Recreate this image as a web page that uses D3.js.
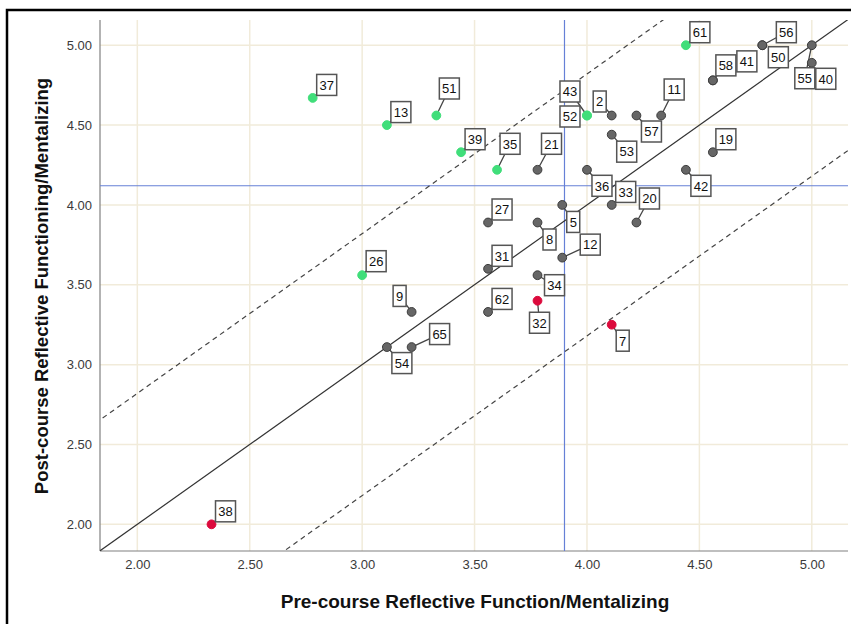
<!DOCTYPE html>
<html>
<head>
<meta charset="utf-8">
<script src="https://cdn.jsdelivr.net/npm/d3@7"></script>
<style>
  body { margin: 0; background: #fff; }
  svg text { font-family: "Liberation Sans", Arial, sans-serif; }
</style>
</head>
<body>
<div id="chart"></div>
<script>
//----------------- data -----------------//
// case ids, pre-course score, post-course score, group (colour)
var caseIds   = ["37","13","51","39","35","21","43","52","2","57","11","53","61","56","50","55","40","58","41","19","42","36","33","20","5","12","8","27","31","34","26","32","9","62","54","65","7","38"];
var preScores = [2.78,3.11,3.33,3.44,3.60,3.78,4.00,4.00,4.11,4.22,4.33,4.11,4.44,4.78,4.78,5.00,5.00,4.56,4.56,4.56,4.44,4.00,4.11,4.22,3.89,3.89,3.78,3.56,3.56,3.78,3.00,3.78,3.22,3.56,3.11,3.22,4.11,2.33];
var postScores= [4.67,4.50,4.56,4.33,4.22,4.22,4.56,4.56,4.56,4.56,4.56,4.44,5.00,5.00,5.00,5.00,4.89,4.78,4.78,4.33,4.22,4.22,4.00,3.89,4.00,3.67,3.89,3.89,3.60,3.56,3.56,3.40,3.33,3.33,3.11,3.11,3.25,2.00];
var groups    = ["up","up","up","up","up","none","up","up","none","none","none","none","up","none","none","none","none","none","none","none","none","none","none","none","none","none","none","none","none","none","up","down","none","none","none","none","down","down"];

var tickValues = [2.00, 2.50, 3.00, 3.50, 4.00, 4.50, 5.00];
var preMean = 3.90, postMean = 4.12;   // reference lines
var rciBand = 0.82;                     // dashed lines either side of y = x

var xTitle = "Pre-course Reflective Function/Mentalizing";
var yTitle = "Post-course Reflective Functioning/Mentalizing";

// label box offsets from the point (px) and whether a leader line is drawn
var labelLayout = {
  "37":[14,-13,1],"13":[14,-13,1],"51":[13,-27,1],"39":[14,-13,1],"35":[13,-26,1],
  "21":[14,-26,1],"43":[-17,-24,1],"52":[-17,1,0],"2":[-12,-14,1],"57":[15,16,1],
  "11":[13,-26,1],"53":[15,17,1],"61":[14,-13,1],"56":[24,-13,1],"50":[16,12,0],
  "55":[-7,33,1],"40":[14,16,0],"58":[13,-15,1],"41":[34,-19,0],"19":[13,-13,1],
  "42":[15,16,1],"36":[15,16,1],"33":[14,-13,1],"20":[13,-24,1],"5":[11,17,1],
  "12":[28,-13,1],"8":[12,17,1],"27":[14,-13,1],"31":[14,-13,1],"34":[17,10,1],
  "26":[14,-14,1],"32":[2,22,1],"9":[-12,-16,1],"62":[14,-13,1],"54":[15,16,1],
  "65":[28,-13,1],"7":[11,16,1],"38":[14,-13,1]
};

var colours = { up: "#40de7a", none: "#666666", down: "#dc0a3c" };
var strokes = { up: "#40de7a", none: "#3c3c3c", down: "#dc0a3c" };

//----------------- chart -----------------//
const width = 851, height = 624;
const plotL = 100, plotR = 848, plotT = 20, plotB = 551;

var x = d3.scaleLinear().domain([1.834, 5.161]).range([plotL, plotR]);
var y = d3.scaleLinear().domain([1.833, 5.158]).range([plotB, plotT]);

var svg = d3.select("#chart").append("svg")
    .attr("width", width)
    .attr("height", height);

// outer frame (top and left edges visible)
svg.append("path")
    .attr("d", "M7,624 L7,10 L851,10")
    .attr("fill", "none")
    .attr("stroke", "#000")
    .attr("stroke-width", 2.5);

// grid
var grid = svg.append("g");
grid.selectAll("line.gx").data(tickValues).enter().append("line")
    .attr("x1", d => x(d)).attr("x2", d => x(d))
    .attr("y1", plotT).attr("y2", plotB)
    .attr("stroke", "#f1ebda").attr("stroke-width", 1.5);
grid.selectAll("line.gy").data(tickValues).enter().append("line")
    .attr("y1", d => y(d)).attr("y2", d => y(d))
    .attr("x1", plotL).attr("x2", plotR)
    .attr("stroke", "#f1ebda").attr("stroke-width", 1.5);

// axes
var xAxis = svg.append("g")
    .attr("transform", "translate(0," + plotB + ")")
    .call(d3.axisBottom(x).tickValues(tickValues).tickSize(0).tickPadding(9).tickFormat(d3.format(".2f")));
var yAxis = svg.append("g")
    .attr("transform", "translate(" + plotL + ",0)")
    .call(d3.axisLeft(y).tickValues(tickValues).tickSize(0).tickPadding(8).tickFormat(d3.format(".2f")));
[xAxis, yAxis].forEach(function(a) {
    a.attr("font-size", 13).attr("font-family", null);
    a.select(".domain").attr("stroke", "#808080").attr("stroke-width", 1.2);
    a.selectAll("text").attr("fill", "#3a3a3a");
});
// full axis line length
xAxis.select(".domain").attr("d", "M" + plotL + ",0H" + plotR);
yAxis.select(".domain").attr("d", "M0," + plotT + "V" + plotB);

svg.append("defs").append("clipPath").attr("id", "plotClip")
    .append("rect").attr("x", plotL).attr("y", plotT)
    .attr("width", plotR - plotL).attr("height", plotB - plotT);

var lines = svg.append("g").attr("clip-path", "url(#plotClip)");
var lo = x.domain()[0] - 1, hi = x.domain()[1] + 1;

// mean reference lines
lines.append("line")
    .attr("x1", x(preMean)).attr("x2", x(preMean))
    .attr("y1", plotT).attr("y2", plotB)
    .attr("stroke", "#6680d6").attr("stroke-width", 1.2);
lines.append("line")
    .attr("x1", plotL).attr("x2", plotR)
    .attr("y1", y(postMean)).attr("y2", y(postMean))
    .attr("stroke", "#6680d6").attr("stroke-width", 1.2);

// y = x and the dashed band
[0, rciBand, -rciBand].forEach(function(off) {
    lines.append("line")
        .attr("x1", x(lo)).attr("y1", y(lo + off))
        .attr("x2", x(hi)).attr("y2", y(hi + off))
        .attr("stroke", off === 0 ? "#333" : "#444")
        .attr("stroke-width", 1.2)
        .attr("stroke-dasharray", off === 0 ? null : "5,4");
});

// data rows
var rows = caseIds.map(function(id, i) {
    return { id: id, pre: preScores[i], post: postScores[i], group: groups[i] };
});

// leaders
svg.append("g").selectAll("line")
    .data(rows.filter(d => labelLayout[d.id][2]))
    .enter().append("line")
    .attr("x1", d => x(d.pre)).attr("y1", d => y(d.post))
    .attr("x2", d => x(d.pre) + labelLayout[d.id][0])
    .attr("y2", d => y(d.post) + labelLayout[d.id][1])
    .attr("stroke", "#444").attr("stroke-width", 1.3);

// points
svg.append("g").selectAll("circle")
    .data(rows)
    .enter().append("circle")
    .attr("cx", d => x(d.pre))
    .attr("cy", d => y(d.post))
    .attr("r", 4.4)
    .attr("fill", d => colours[d.group])
    .attr("stroke", d => strokes[d.group])
    .attr("stroke-width", 1);

// label boxes
var labels = svg.append("g").selectAll("g")
    .data(rows)
    .enter().append("g")
    .attr("transform", d => "translate(" + (x(d.pre) + labelLayout[d.id][0]) + "," + (y(d.post) + labelLayout[d.id][1]) + ")");
labels.append("rect")
    .attr("x", d => -(d.id.length * 7 + 6) / 2)
    .attr("y", -10.5)
    .attr("width", d => d.id.length * 7 + 6)
    .attr("height", 21)
    .attr("fill", "#fff")
    .attr("stroke", "#555")
    .attr("stroke-width", 1.5);
labels.append("text")
    .attr("text-anchor", "middle")
    .attr("dy", "0.37em")
    .attr("font-size", "13px")
    .attr("fill", "#111")
    .text(d => d.id);

// axis titles
svg.append("text")
    .attr("x", 475).attr("y", 608)
    .attr("text-anchor", "middle")
    .attr("font-size", "19px")
    .attr("font-weight", "bold")
    .attr("fill", "#111")
    .text(xTitle);
svg.append("text")
    .attr("transform", "translate(48,286) rotate(-90)")
    .attr("text-anchor", "middle")
    .attr("font-size", "18.5px")
    .attr("font-weight", "bold")
    .attr("fill", "#111")
    .text(yTitle);
</script>
</body>
</html>
